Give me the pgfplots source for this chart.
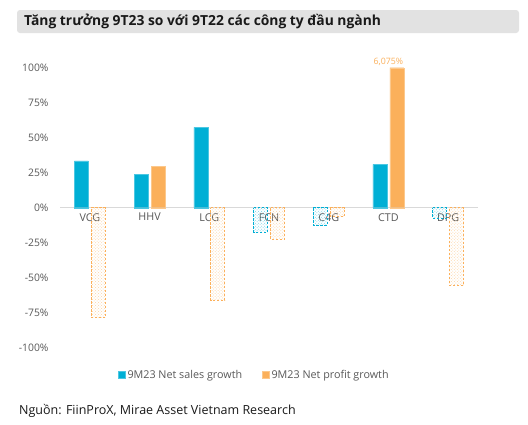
\documentclass[border=0pt]{standalone}
\usepackage{pgfplots}
\pgfplotsset{compat=1.18}
\usepackage{fontspec}
\setmainfont{Open Sans}
\usetikzlibrary{patterns}
\definecolor{cblue}{HTML}{00AFD5}
\definecolor{corange}{HTML}{FBB05B}
\definecolor{tickgray}{HTML}{595959}
\definecolor{titlegray}{HTML}{E2E2E2}
\definecolor{zerogray}{HTML}{D9D9D9}
\begin{document}
\begin{tikzpicture}
\useasboundingbox[fill=white] (0,0) rectangle (528bp,-425bp);
\fill[titlegray, rounded corners=3bp] (17bp,-10bp) rectangle (519bp,-33bp);
\node[anchor=west, inner sep=0pt, text=black!90, font=\bfseries\fontsize{13.9}{16}\selectfont] at (24bp,-21.5bp) {Tăng trưởng 9T23 so với 9T22 các công ty đầu ngành};
\node[anchor=west, inner sep=0pt, text=black!90, font=\fontsize{12.55}{15}\selectfont] at (19bp,-411bp) {Nguồn: FiinProX, Mirae Asset Vietnam Research};
\begin{axis}[
  at={(60bp,-347.7bp)}, anchor=south west,
  scale only axis, width=418bp, height=280bp,
  xmin=-0.5, xmax=6.5, ymin=-100, ymax=100,
  axis x line*=middle, axis y line*=left,
  x axis line style={draw=zerogray, line width=1pt},
  y axis line style={draw=none},
  major tick length=0pt,
  xtick={0,...,6},
  xticklabels={VCG,HHV,LCG,FCN,C4G,CTD,DPG},
  ytick={-100,-75,...,100},
  yticklabel={\pgfmathprintnumber{\tick}\%},
  /pgf/number format/assume math mode=true,
  ticklabel style={font=\fontsize{10.4}{12}\selectfont, text=tickgray},
  xticklabel style={font=\fontsize{10.8}{12}\selectfont, yshift=-2bp},
  yticklabel style={xshift=-8bp},
  clip=false,
  legend style={at={(0.465,-0.0975)}, anchor=center, draw=none, fill=none,
    legend columns=2, font=\fontsize{10.8}{12}\selectfont, text=tickgray,
    /tikz/every even column/.append style={column sep=18bp},
    inner sep=0pt},
  legend image code/.code={\fill[#1] (0bp,-3.5bp) rectangle (7bp,3.5bp);},
]
% positive bars
\addplot[ybar, bar width=14bp, bar shift=-8.5bp, fill=cblue, draw=cblue!70!white, line width=0.4bp]
  coordinates {(0,33.5) (1,24) (2,57.4) (5,31)};
\addlegendentry{9M23 Net sales growth}
\addplot[ybar, bar width=14bp, bar shift=8.5bp, fill=corange, draw=corange!70!white, line width=0.4bp]
  coordinates {(1,29.3) (5,100)};
\addlegendentry{9M23 Net profit growth}
% negative bars
\addplot[ybar, forget plot, bar width=14bp, bar shift=-8.5bp, pattern=crosshatch dots, pattern color=cblue!55,
  draw=cblue, dash pattern=on 2.5bp off 1.5bp, line width=0.8bp]
  coordinates {(3,-17.5) (4,-12.5) (6,-7.5)};
\addplot[ybar, forget plot, bar width=14bp, bar shift=8.5bp, pattern=crosshatch dots, pattern color=corange!55,
  draw=corange, dash pattern=on 2.5bp off 1.5bp, line width=0.8bp]
  coordinates {(0,-78.5) (2,-66) (3,-22.5) (4,-6.5) (6,-55.5)};
% label for capped bar
\addplot[ybar, forget plot, bar width=14bp, bar shift=8.5bp, draw=none, fill=none,
  point meta=explicit symbolic, nodes near coords,
  every node near coord/.append style={font=\fontsize{8.8}{10}\selectfont, text=corange, inner sep=1.5bp}]
  coordinates {(5,100) [6,075\%]};
\end{axis}
\end{tikzpicture}
\end{document}
